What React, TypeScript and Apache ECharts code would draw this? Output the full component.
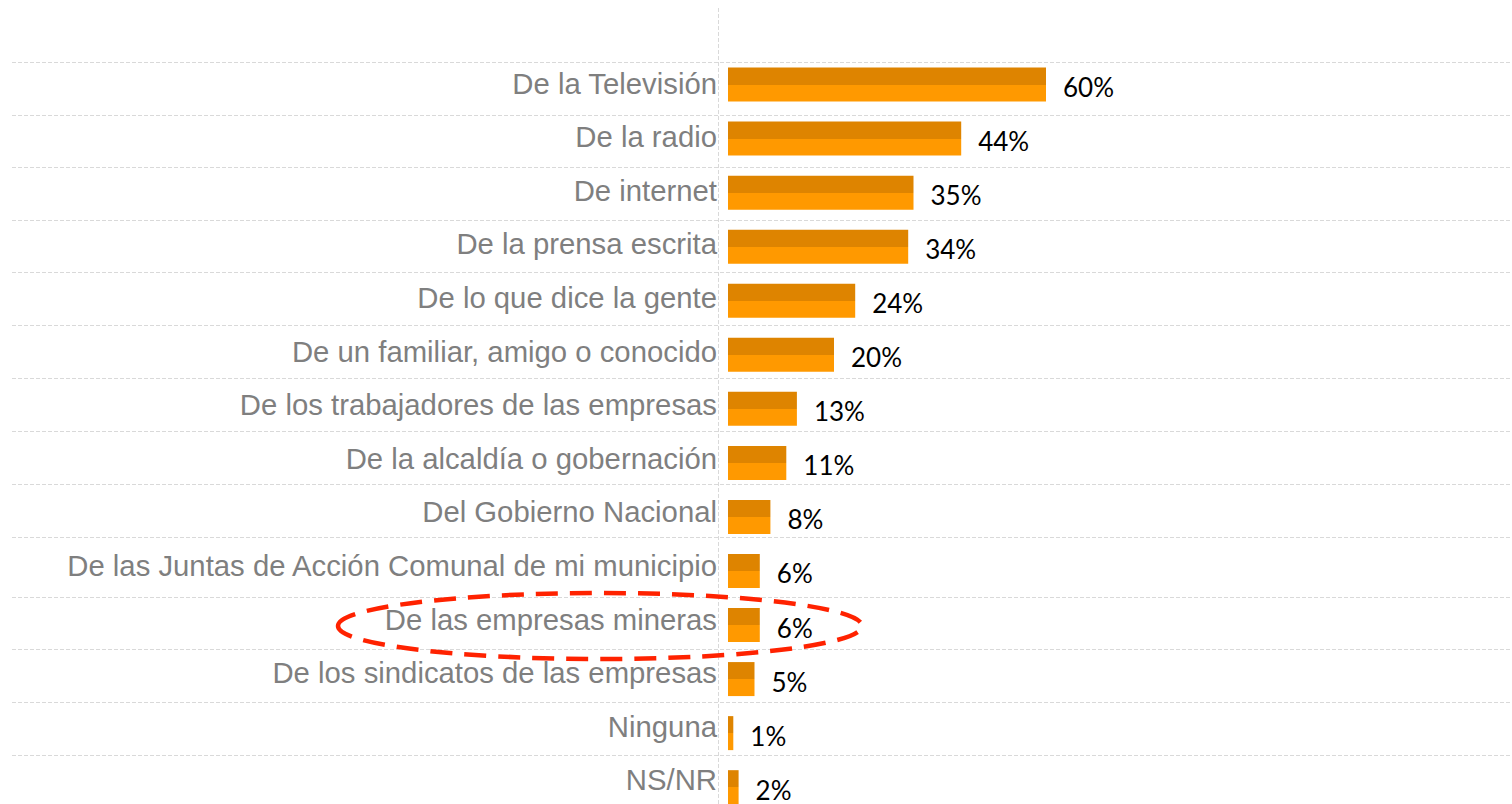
import React, { useEffect, useRef } from "react";
import * as echarts from "echarts";

const categories = [
  "De la Televisión",
  "De la radio",
  "De internet",
  "De la prensa escrita",
  "De lo que dice la gente",
  "De un familiar, amigo o conocido",
  "De los trabajadores de las empresas",
  "De la alcaldía o gobernación",
  "Del Gobierno Nacional",
  "De las Juntas de Acción Comunal de mi municipio",
  "De las empresas mineras",
  "De los sindicatos de las empresas",
  "Ninguna",
  "NS/NR",
];
const values = [60, 44, 35, 34, 24, 20, 13, 11, 8, 6, 6, 5, 1, 2];

// decorative separator rows (as drawn in the original slide)
const separatorYs = [62, 115, 167, 220, 272, 325, 378, 431, 484, 537, 597, 649, 702, 755];

export default function App() {
  const ref = useRef<HTMLDivElement>(null);
  useEffect(() => {
    if (!ref.current) return;
    const chart = echarts.init(ref.current, null, { renderer: "svg" });
    const graphics: any[] = separatorYs.map((y) => ({
      type: "line",
      silent: true,
      z: -1,
      shape: { x1: 12, y1: y + 0.5, x2: 1512, y2: y + 0.5 },
      style: { stroke: "#D9D9D9", lineWidth: 1, lineDash: [4, 2] },
    }));
    graphics.push({
      type: "line",
      silent: true,
      z: -1,
      shape: { x1: 718.5, y1: 8, x2: 718.5, y2: 830 },
      style: { stroke: "#D9D9D9", lineWidth: 1, lineDash: [4, 2] },
    });
    graphics.push({
      type: "ellipse",
      silent: true,
      z: 100,
      shape: { cx: 600, cy: 626, rx: 262, ry: 33 },
      style: { fill: "none", stroke: "#FF2200", lineWidth: 4.5, lineDash: [22, 12] },
    });
    chart.setOption({
      animation: false,
      backgroundColor: "#FFFFFF",
      grid: [
        { left: 728, width: 530, top: 57.5, height: 756.7, containLabel: false },
        { left: 728, width: 530, top: 56.2, height: 750.4, containLabel: false },
      ],
      xAxis: [
        { type: "value", min: 0, max: 100, show: false, gridIndex: 0 },
        { type: "value", min: 0, max: 100, show: false, gridIndex: 1 },
      ],
      yAxis: [
        {
          type: "category",
          gridIndex: 0,
          inverse: true,
          data: categories,
          axisLine: { show: false },
          axisTick: { show: false },
          splitLine: { show: false },
          axisLabel: { show: false },
        },
        {
          type: "category",
          gridIndex: 1,
          inverse: true,
          data: categories,
          axisLine: { show: false },
          axisTick: { show: false },
          splitLine: { show: false },
          axisLabel: {
            color: "#7F7F7F",
            fontSize: 29.3,
            fontFamily: "Liberation Sans, Arial, sans-serif",
            margin: 11,
          },
        },
      ],
      series: [
        {
          type: "bar",
          xAxisIndex: 0,
          yAxisIndex: 0,
          data: values,
          barWidth: 34,
          itemStyle: {
            color: {
              type: "linear",
              x: 0,
              y: 0,
              x2: 0,
              y2: 1,
              colorStops: [
                { offset: 0, color: "#DE8400" },
                { offset: 0.5, color: "#DE8400" },
                { offset: 0.5, color: "#FF9900" },
                { offset: 1, color: "#FF9900" },
              ],
            },
          },
          label: {
            show: true,
            position: "right",
            distance: 17,
            offset: [0, 2.5],
            formatter: "{c}%",
            color: "#000000",
            fontSize: 26,
            fontFamily: "Lato, sans-serif",
          },
        },
      ],
      graphic: graphics,
    });
    return () => chart.dispose();
  }, []);
  return (
    <div
      ref={ref}
      style={{ position: "fixed", left: 0, top: 0, width: 1512, height: 830 }}
    />
  );
}
